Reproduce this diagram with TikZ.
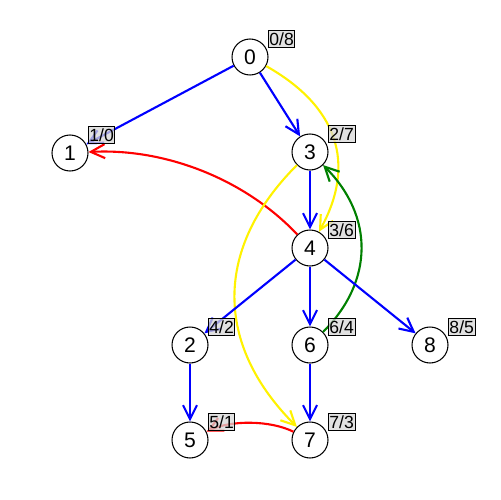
\documentclass[tikz,border=0pt]{standalone}
\usepackage{fontspec}
\setmainfont{Liberation Sans}
\usetikzlibrary{arrows.meta}
\definecolor{lblgray}{RGB}{215,215,215}
\definecolor{edgegreen}{RGB}{0,128,0}
\begin{document}
\begin{tikzpicture}[x=0.02cm,y=-0.02cm,
  vert/.style={circle,draw=black,line width=0.6pt,fill=white,minimum size=0.72cm,inner sep=0pt,font=\fontsize{12}{14}\selectfont},
  lbl/.style={draw=black,line width=0.5pt,fill=lblgray,fill opacity=0.75,text opacity=1,anchor=south west,minimum width=0.53cm,minimum height=0.34cm,inner sep=0pt,font=\fontsize{10}{11}\selectfont},
  edge/.style={line width=1.2pt,-{Straight Barb[length=2.8mm,width=2.8mm]}},
]
\useasboundingbox (0,0) rectangle (500,500);
\node[vert] (n0) at (250,57) {0};
\node[vert] (n1) at (70,153) {1};
\node[vert] (n3) at (310,152) {3};
\node[vert] (n4) at (310,248) {4};
\node[vert] (n2) at (190,345) {2};
\node[vert] (n6) at (310,345) {6};
\node[vert] (n8) at (430,345) {8};
\node[vert] (n5) at (190,440) {5};
\node[vert] (n7) at (310,440) {7};

\draw[edge,blue] (n0) -- (n1);
\draw[edge,blue] (n0) -- (n3);
\draw[edge,yellow] (n0) .. controls (337,106) and (357,163) .. (n4);
\draw[edge,blue] (n3) -- (n4);
\draw[edge,red] (n4) .. controls (245,179) and (165,148) .. (n1);
\draw[edge,edgegreen] (n6) .. controls (374,281) and (374,216) .. (n3);
\draw[edge,yellow] (n3) .. controls (214,248) and (214,344) .. (n7);
\draw[edge,blue] (n4) -- (n2);
\draw[edge,blue] (n4) -- (n6);
\draw[edge,blue] (n4) -- (n8);
\draw[edge,blue] (n2) -- (n5);
\draw[edge,blue] (n6) -- (n7);
\draw[edge,red] (n7) .. controls (270,420) and (230,420) .. (n5);

\node[lbl] (l0) at (268,48) {0/8};
\node[lbl] (l1) at (88,144) {1/0};
\node[lbl] (l3) at (328,143) {2/7};
\node[lbl] (l4) at (328,239) {3/6};
\node[lbl] (l2) at (208,336) {4/2};
\node[lbl] (l6) at (328,336) {6/4};
\node[lbl] (l8) at (448,336) {8/5};
\node[lbl] (l5) at (208,431) {5/1};
\node[lbl] (l7) at (328,431) {7/3};
\end{tikzpicture}
\end{document}
